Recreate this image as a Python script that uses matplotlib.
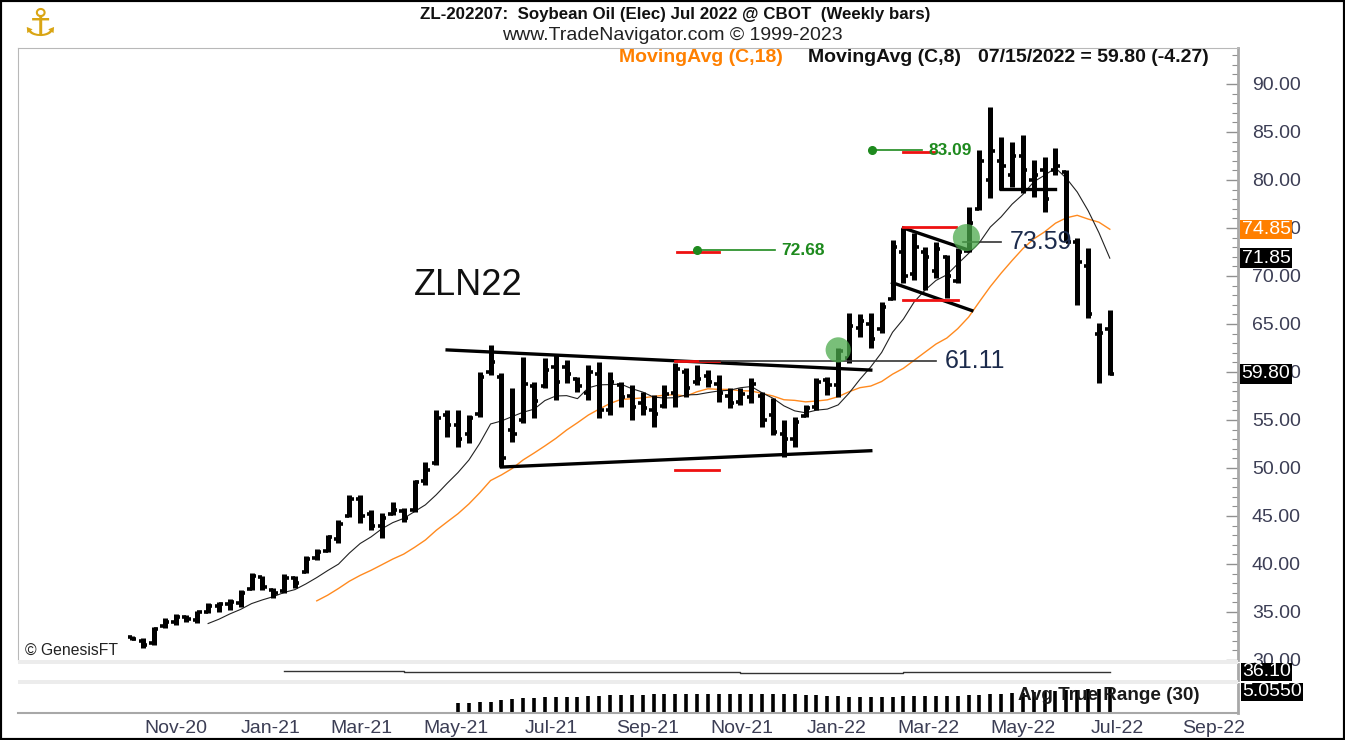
import numpy as np
import pandas as pd
import matplotlib
matplotlib.use("Agg")
import matplotlib.pyplot as plt
import matplotlib.dates as mdates
import matplotlib.transforms as mtransforms
from matplotlib.patches import Rectangle
from matplotlib.ticker import MultipleLocator, FormatStrFormatter

plt.rcParams['font.family'] = ['Liberation Sans', 'DejaVu Sans']

W, H = 1345, 740

# weekly bars, ZLN22 (Friday closes)
weeks = pd.date_range("2020-10-23", "2022-07-15", freq="W-FRI")

opens = [32.4, 32.0, 31.8, 33.5, 34.0, 34.5, 34.2, 35.0, 35.6, 35.8,
         35.9, 37.4, 38.6, 37.3, 37.2, 38.5, 39.2, 40.6, 41.4, 42.6,
         45.0, 46.8, 45.2, 44.0, 45.2, 45.5, 45.6, 48.6, 50.5, 55.5,
         54.5, 53.5, 55.6, 60.0, 59.5, 54.0, 55.0, 58.5, 58.5, 60.5,
         60.5, 59.3, 57.8, 59.8, 56.0, 58.6, 57.5, 56.8, 56.0, 56.5,
         57.8, 60.0, 59.0, 59.6, 58.8, 57.5, 56.9, 57.4, 57.5, 55.5,
         53.5, 53.0, 55.4, 56.4, 59.2, 58.6, 61.5, 64.6, 65.0, 64.5,
         67.6, 72.5, 70.2, 72.5, 70.5, 72.0, 69.5, 72.6, 77.0, 80.0,
         82.0, 80.5, 82.5, 80.0, 81.0, 81.0, 80.8, 73.5, 71.0, 64.0,
         64.5]
highs = [32.5, 32.3, 33.4, 34.4, 34.8, 34.7, 35.1, 35.9, 36.0, 36.4,
         37.3, 39.1, 38.8, 37.5, 39.0, 38.8, 40.8, 41.6, 43.0, 44.6,
         47.2, 47.2, 45.6, 45.3, 46.5, 45.8, 48.8, 50.6, 56.0, 56.0,
         56.0, 55.5, 60.0, 62.8, 59.9, 58.3, 61.6, 59.0, 61.5, 61.8,
         61.25, 59.5, 60.7, 61.0, 60.0, 59.0, 58.6, 57.9, 57.6, 58.6,
         60.9, 60.4, 60.7, 60.2, 59.7, 58.3, 58.3, 59.4, 57.9, 57.3,
         55.0, 55.3, 56.6, 59.4, 59.5, 62.5, 66.1, 66.0, 66.1, 67.3,
         73.75, 75.0, 74.5, 73.0, 73.5, 72.2, 72.9, 77.2, 83.1, 87.6,
         84.5, 84.0, 84.7, 82.1, 82.4, 83.3, 81.0, 74.0, 72.9, 65.1,
         66.5]
lows = [32.1, 31.2, 31.6, 33.3, 33.6, 34.0, 33.9, 34.9, 35.0, 35.2,
        35.5, 37.3, 37.3, 36.5, 37.0, 37.5, 39.1, 40.4, 41.2, 42.2,
        44.9, 44.3, 43.5, 42.7, 45.1, 44.4, 45.4, 48.2, 50.3, 53.2,
        52.2, 52.6, 55.3, 59.7, 50.1, 52.7, 54.7, 55.2, 58.3, 57.1,
        58.85, 57.9, 57.1, 55.2, 55.5, 56.4, 55.0, 55.5, 54.3, 56.25,
        56.4, 57.4, 58.6, 58.4, 56.9, 56.25, 56.6, 56.8, 54.3, 53.4,
        51.1, 52.2, 55.3, 56.0, 57.6, 57.4, 60.9, 63.6, 62.5, 64.1,
        67.5, 69.3, 69.6, 68.5, 69.8, 67.7, 69.3, 72.5, 76.9, 78.1,
        79.0, 79.3, 78.6, 78.2, 76.7, 80.5, 73.5, 67.0, 65.6, 58.9,
        59.7]
closes = [32.2, 31.6, 33.2, 34.0, 34.5, 34.3, 35.0, 35.6, 35.8, 36.0,
          37.0, 38.8, 37.6, 37.0, 38.5, 38.0, 40.5, 41.3, 42.8, 44.2,
          46.8, 45.0, 44.0, 44.8, 45.6, 44.8, 48.5, 49.8, 55.2, 54.5,
          53.0, 55.2, 59.5, 61.0, 51.0, 53.5, 58.8, 57.0, 60.2, 59.0,
          59.8, 58.5, 60.0, 56.0, 59.0, 57.4, 56.4, 56.2, 55.6, 57.7,
          60.3, 58.3, 59.3, 59.0, 57.8, 56.8, 57.7, 58.7, 55.0, 53.8,
          53.0, 54.8, 56.2, 59.0, 58.6, 62.2, 64.8, 65.3, 63.4, 66.8,
          73.0, 70.0, 73.0, 72.0, 72.8, 70.0, 72.5, 75.5, 82.0, 83.0,
          81.5, 82.5, 81.0, 80.5, 78.0, 81.5, 73.5, 71.5, 66.0, 64.07,
          59.80]

# second indicator panel (step line)
step_dates = ["2021-01-29", "2021-02-26", "2021-04-16", "2021-07-16", "2021-09-17",
              "2021-11-19", "2022-03-04", "2022-05-20", "2022-06-24", "2022-07-15"]
step_vals = [36.4, 36.7, 36.3, 36.1, 35.8, 35.4, 35.8, 36.2, 36.1, 36.1]

month_labels = ["Nov-20", "Jan-21", "Mar-21", "May-21", "Jul-21", "Sep-21",
                "Nov-21", "Jan-22", "Mar-22", "May-22", "Jul-22", "Sep-22"]
month_ticks = pd.date_range("2020-11-01", "2022-09-30", freq="2MS") + pd.Timedelta(days=19)

# drawn annotations (week number from first bar, price)
upper_channel = ([29, 68], [62.3, 60.2])
lower_channel = ([34, 68], [50.1, 51.8])
pennant_top = ([71, 77], [75.0, 72.7])
pennant_bot = ([70, 77.3], [69.3, 66.4])
red_marks = [([50, 54], 61.1), ([50, 54], 49.8), ([71, 75.8], 75.1),
             ([71, 76], 67.5), ([71, 73.8], 82.95), ([50.2, 54], 72.5)]


def fx(px):
    return px / W


def fy(py):
    return 1 - py / H


x = mdates.date2num(weeks)
x0 = x[0]


def wk(i):
    return x0 + 7 * np.asarray(i, dtype=float)


fig = plt.figure(figsize=(13.45, 7.4), dpi=100)
ax = fig.add_axes([fx(18), fy(660), fx(1238) - fx(18), fy(48) - fy(660)])
ax2 = fig.add_axes([fx(18), fy(680), fx(1238) - fx(18), fy(664) - fy(680)], sharex=ax)
ax3 = fig.add_axes([fx(18), fy(713), fx(1238) - fx(18), fy(684) - fy(713)], sharex=ax)

xlim = (wk(-10.5), wk(101.8))
ax.set_xlim(*xlim)
ax.set_ylim(30.0, 93.75)

# price bars
ax.vlines(x, lows, highs, color='black', lw=3.6, zorder=3)
ax.hlines(opens, x - 2.8, x, color='black', lw=2.6, zorder=3)
ax.hlines(closes, x, x + 2.8, color='black', lw=2.6, zorder=3)

c = pd.Series(closes)
ma8 = c.rolling(8).mean()
ma18 = c.rolling(18).mean()
ax.plot(x, ma18, color='#ff8a1f', lw=1.0, zorder=2)
ax.plot(x, ma8, color='#222222', lw=0.8, zorder=2)

# channel / pennant lines
for xs, ys in [upper_channel, lower_channel, pennant_top, pennant_bot]:
    ax.plot(wk(xs), ys, color='black', lw=2.4, zorder=4)
for xs, yv in red_marks:
    ax.plot(wk(xs), [yv, yv], color='#ee1111', lw=2.0, zorder=4)

# breakout levels
ax.plot(wk([52.3, 74]), [61.11, 61.11], color='#333333', lw=1.2, zorder=4)
ax.text(wk(74.8), 61.11, "61.11", fontsize=18, color='#1c2b4c', va='center', ha='left')
ax.plot(wk([76.5, 80]), [73.59, 73.59], color='#333333', lw=1.2, zorder=4)
ax.text(wk(80.8), 73.59, "73.59", fontsize=18, color='#1c2b4c', va='center', ha='left', zorder=6)
ax.plot(wk([80, 85]), [79.1, 79.1], color='black', lw=2.4, zorder=4)
ax.scatter([wk(65.0), wk(76.8)], [62.3, 74.0], s=[330, 380], color='#4caa4c',
           alpha=0.75, zorder=5, linewidths=0)

# target markers
for xs, yv, lab in [([52, 59.2], 72.68, "72.68"), ([68.1, 72.7], 83.09, "83.09")]:
    ax.plot(wk(xs), [yv, yv], color='#1e8a1e', lw=1.2, zorder=4)
    ax.plot(wk(xs[0]), yv, 'o', color='#1e8a1e', ms=5.5, zorder=5)
    ax.text(wk(xs[1] + 0.6), yv, lab, color='#1e8a1e', fontsize=12.5, fontweight='bold',
            va='center', ha='left', zorder=6)

ax.text(wk(25.9), 69.0, "ZLN22", fontsize=26, color='#111111', va='center', ha='left')
ax.text(0.006, 0.016, "© GenesisFT", transform=ax.transAxes, fontsize=11.3,
        color='#222222', va='center', ha='left')

# axes styling
for a in (ax, ax2, ax3):
    a.set_facecolor('white')
    for s in ('left', 'top', 'bottom'):
        a.spines[s].set_visible(False)
    a.spines['right'].set_color('#a8a8a8')
    a.spines['right'].set_linewidth(2.0)
    a.tick_params(axis='x', length=0, labelbottom=False)
ax.spines['top'].set_visible(True)
ax.spines['top'].set_color('#b8b8b8')
ax.spines['left'].set_visible(True)
ax.spines['left'].set_color('#b8b8b8')
ax3.spines['bottom'].set_visible(True)
ax3.spines['bottom'].set_color('#a8a8a8')
ax3.spines['bottom'].set_linewidth(1.5)

ax.yaxis.tick_right()
ax.yaxis.set_major_locator(MultipleLocator(5))
ax.yaxis.set_minor_locator(MultipleLocator(1))
ax.yaxis.set_major_formatter(FormatStrFormatter('%.2f'))
ax.tick_params(axis='y', which='major', direction='in', length=9, width=1.0,
               color='#909090', labelsize=14, labelcolor='#3c3e55', pad=10)
ax.tick_params(axis='y', which='minor', direction='in', length=4.5, width=0.8, color='#909090')

for a in (ax2, ax3):
    a.set_yticks([])

# value boxes on the right scale
blend = mtransforms.blended_transform_factory(ax.transAxes, ax.transData)
for val, txt, bg in [(ma18.iloc[-1], "74.85", '#ff7f00'), (ma8.iloc[-1], "71.85", 'black'),
                     (closes[-1], "59.80", 'black')]:
    ax.text(1.003, val, txt, transform=blend, fontsize=14, color='white', va='center',
            ha='left', bbox=dict(facecolor=bg, edgecolor='none', pad=0.8), zorder=7)

# panel 2: step line
ax2.plot(mdates.date2num(pd.to_datetime(step_dates)), step_vals, drawstyle='steps-post',
         color='#333333', lw=1.0)
ax2.set_ylim(30, 42)

# panel 3: average true range
h = pd.Series(highs)
l = pd.Series(lows)
pc = c.shift(1)
tr = pd.concat([h, pc], axis=1).max(axis=1) - pd.concat([l, pc], axis=1).min(axis=1)
tr.iloc[0] = np.nan
atr = tr.rolling(30).mean()
ok = atr.notna().values
ax3.vlines(x[ok], 0, atr[ok], color='black', lw=2.6)
ax3.set_ylim(0, 6.0)
ax3.text(0.82, 0.62, "Avg True Range (30)", transform=ax3.transAxes, fontsize=13.6,
         fontweight='bold', color='#1a1a1a', va='center', ha='left')

ax3.set_xticks(mdates.date2num(month_ticks))
ax3.set_xticklabels(month_labels)
ax3.tick_params(axis='x', labelbottom=True, labelsize=14, labelcolor='#3c3e55', pad=5)

fig.text(fx(1242), fy(672), "36.10", fontsize=14, color='white', va='center', ha='left',
         bbox=dict(facecolor='black', edgecolor='none', pad=0.5))
fig.text(fx(1242), fy(692), "5.0550", fontsize=14, color='white', va='center', ha='left',
         bbox=dict(facecolor='black', edgecolor='none', pad=0.5))

# separator bands between panels
for top, bot in [(660, 664), (680, 684)]:
    fig.patches.append(Rectangle((fx(18), fy(bot)), fx(1238) - fx(18), fy(top) - fy(bot),
                                 transform=fig.transFigure, facecolor='#ececec',
                                 edgecolor='none', zorder=0))

# header
fig.text(0.502, fy(14), "ZL-202207:  Soybean Oil (Elec) Jul 2022 @ CBOT  (Weekly bars)",
         fontsize=12.2, fontweight='bold', ha='center', va='center', color='#111111')
fig.text(0.5, fy(36), "www.TradeNavigator.com © 1999-2023", fontsize=14,
         ha='center', va='center', color='#222222')
fig.text(fx(619), fy(57), "MovingAvg (C,18)", fontsize=14, fontweight='bold',
         color='#ff8000', ha='left', va='center')
fig.text(fx(808), fy(57), "MovingAvg (C,8)", fontsize=14, fontweight='bold',
         color='#111111', ha='left', va='center')
fig.text(fx(978), fy(57), "07/15/2022 = 59.80 (-4.27)", fontsize=14, fontweight='bold',
         color='#111111', ha='left', va='center')
fig.text(fx(40), fy(25), "\u2693", fontsize=28, color='#d9a514', ha='center', va='center',
         family='DejaVu Sans')

fig.patches.append(Rectangle((0, 0), 1, 1, transform=fig.transFigure, fill=False,
                             edgecolor='black', linewidth=3))

fig.savefig("out.png", dpi=100, facecolor='white')
